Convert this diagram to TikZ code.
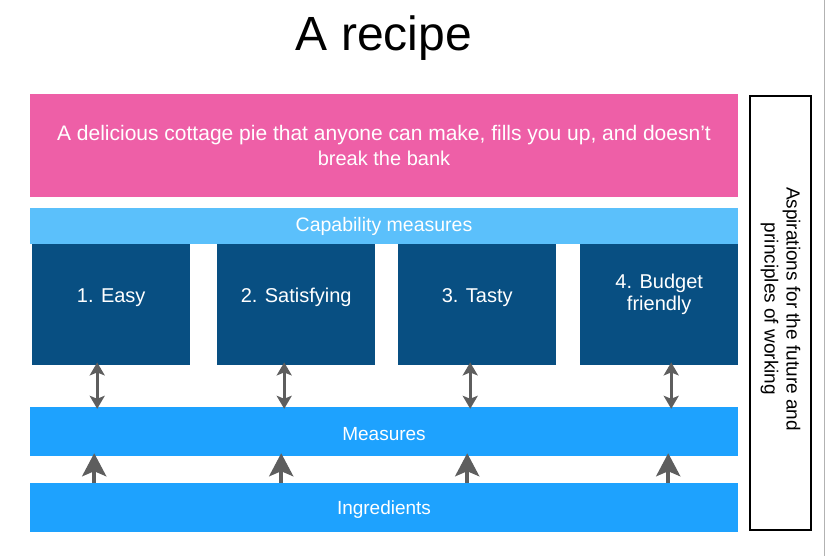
\documentclass[tikz,border=0pt]{standalone}
\usepackage{fontspec}
\setmainfont{Liberation Sans}
\usepackage{xcolor}
\usetikzlibrary{arrows.meta,positioning,calc}

\definecolor{goalpink}{HTML}{EE5FA7}
\definecolor{caplight}{HTML}{5BC0FB}
\definecolor{capdark}{HTML}{084F82}
\definecolor{barblue}{HTML}{1EA2FE}
\definecolor{arrowgrey}{HTML}{5E5E5E}

\begin{document}
\begin{tikzpicture}[x=1pt, y=-1pt, font=\fontsize{20}{25}\selectfont]
    \tikzstyle{bar} = [rectangle, inner sep=0pt, text=white, align=center, minimum width=708pt]
    \tikzstyle{capbox} = [rectangle, fill=capdark, text=white, align=center, minimum width=158pt, minimum height=121pt, inner sep=0pt, text depth=18pt]
    \tikzstyle{updown} = [arrowgrey, line width=3pt, {Stealth[length=13pt, width=15pt, inset=3pt]}-{Stealth[length=13pt, width=15pt, inset=3pt]}]
    \tikzstyle{upward} = [arrowgrey, line width=4pt, -{Stealth[length=23pt, width=24pt, inset=5pt]}]

    \useasboundingbox (0,0) rectangle (826,556);

    % Nodes
    \node (title) at (384,38) {\fontsize{48}{56}\selectfont A recipe};
    \node [bar, fill=goalpink, minimum height=103pt] (goal) at (384,145.5)
        {\fontsize{21}{25}\selectfont A delicious cottage pie that anyone can make, fills you up, and doesn’t\\break the bank};
    \node [bar, fill=caplight, minimum height=36pt] (capability) at (384,226)
        {\fontsize{19.5}{24}\selectfont Capability measures};
    \node [capbox, anchor=north west] (easy) at (32,244) {1. Easy};
    \node [capbox, anchor=north west] (satisfying) at (217,244) {2. Satisfying};
    \node [capbox, anchor=north west] (tasty) at (398,244) {3. Tasty};
    \node [capbox, anchor=north west, text depth=25pt, font=\fontsize{20}{22}\selectfont] (budget) at (580,244) {4. Budget\\friendly};
    \node [bar, fill=barblue, minimum height=49pt, text height=18pt] (measures) at (384,431.5)
        {\fontsize{19}{24}\selectfont Measures};
    \node [bar, fill=barblue, minimum height=49pt, text height=18pt] (ingredients) at (384,507.5)
        {\fontsize{19}{24}\selectfont Ingredients};
    \node [draw=black, line width=1.2pt, minimum width=61pt, minimum height=434pt, inner sep=0pt] (aspirations) at (780.5,313)
        {};
    \node [rotate=-90, align=center, font=\fontsize{19}{22}\selectfont] at ([yshift=4pt]aspirations.center)
        {Aspirations for the future and\\principles of working};
    \coordinate (edgetop) at (824,0);
    \coordinate (edgebottom) at (824,556);

    % Paths
    \draw [updown] ([xshift=-14pt, yshift=3pt]easy.south) -- ([xshift=-14pt, yshift=-2pt]easy.south |- measures.north);
    \draw [updown] ([xshift=-12pt, yshift=3pt]satisfying.south) -- ([xshift=-12pt, yshift=-2pt]satisfying.south |- measures.north);
    \draw [updown] ([xshift=-7pt, yshift=3pt]tasty.south) -- ([xshift=-7pt, yshift=-2pt]tasty.south |- measures.north);
    \draw [updown] ([xshift=12pt, yshift=3pt]budget.south) -- ([xshift=12pt, yshift=-2pt]budget.south |- measures.north);
    \draw [upward] ([xshift=-17pt]easy.south |- ingredients.north) -- ([xshift=-17pt, yshift=3pt]easy.south |- measures.south);
    \draw [upward] ([xshift=-15pt]satisfying.south |- ingredients.north) -- ([xshift=-15pt, yshift=3pt]satisfying.south |- measures.south);
    \draw [upward] ([xshift=-10pt]tasty.south |- ingredients.north) -- ([xshift=-10pt, yshift=3pt]tasty.south |- measures.south);
    \draw [upward] ([xshift=9pt]budget.south |- ingredients.north) -- ([xshift=9pt, yshift=3pt]budget.south |- measures.south);
    \draw [gray!60, line width=0.8pt] (edgetop) -- (edgebottom);
\end{tikzpicture}
\end{document}
